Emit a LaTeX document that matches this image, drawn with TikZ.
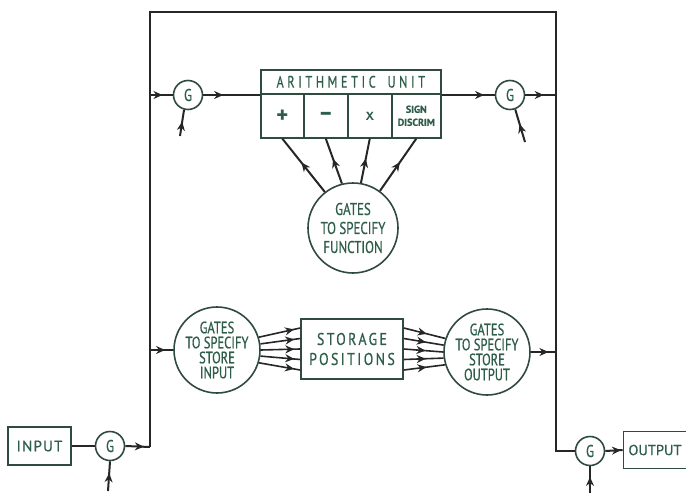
\documentclass[tikz,border=0pt]{standalone}
\usepackage{fontspec}
\setmainfont{PT Sans}[FakeBold=0.6]
\newfontfamily\cond{PT Sans}[FakeStretch=0.76, FakeBold=0.6]
\newfontfamily\condsp{PT Sans}[FakeStretch=0.74, LetterSpace=22, FakeBold=0.6]
\newfontfamily\stsp{PT Sans}[FakeStretch=0.82, LetterSpace=14, FakeBold=0.6]
\newfontfamily\spaced{PT Sans}[LetterSpace=8, FakeBold=0.6]
\usetikzlibrary{arrows.meta,decorations.markings,calc}
\definecolor{ink}{HTML}{262626}
\definecolor{txt}{HTML}{2E5E4A}
\definecolor{edge}{HTML}{2F4A3E}
\tikzset{
  lbl/.style={text=txt, font=\cond\fontsize{17}{19}\selectfont, align=center, inner sep=0pt},
  gate/.style={circle, draw=edge, line width=1.6pt, fill=white, minimum size=29pt, inner sep=0pt, text=txt, font=\cond\fontsize{17}{17}\selectfont},
  bigcirc/.style={circle, draw=edge, line width=1.6pt, fill=white, inner sep=0pt, lbl},
  box/.style={rectangle, draw=edge, line width=1.6pt, fill=white, inner sep=0pt, lbl},
  wire/.style={draw=ink, line width=2pt},
  midarrow/.style={wire, postaction={decorate}, decoration={markings, mark=at position #1 with {\arrow{Stealth[length=9pt,width=8pt]}}}},
}
\begin{document}
\begin{tikzpicture}[x=1pt,y=-1pt]
\useasboundingbox (0,0) rectangle (686,493);
% bus corners
\coordinate (TL) at (150,12);
\coordinate (TR) at (556,12);
\coordinate (LB) at (150,447);
\coordinate (RB) at (556,451);
\coordinate (LA) at (150,95);
\coordinate (RA) at (556,95);
\coordinate (LS) at (150,350);
\coordinate (RS) at (556,352);
% nodes
\node[gate] (gA) at (188,95) {G};
\node[gate] (gB) at (510,95) {G};
\node[box, minimum width=180, minimum height=24, anchor=north west, font=\condsp\fontsize{16.5}{16.5}\selectfont] (au) at (260,69) {ARITHMETIC\ \hspace{5pt}UNIT};
\node[box, minimum width=43, minimum height=44, anchor=north west, font=\fontsize{22}{22}\selectfont] (c1) at (260,93) {\textbf{+}};
\node[box, minimum width=44, minimum height=44, anchor=north west, font=\fontsize{22}{22}\selectfont] (c2) at (303,93) {\textbf{--}};
\node[box, minimum width=44, minimum height=44, anchor=north west, font=\fontsize{16}{16}\selectfont] (c3) at (347,93) {x};
\node[box, minimum width=49, minimum height=44, anchor=north west, font=\bfseries\fontsize{10}{13}\selectfont] (c4) at (391,93) {SIGN\\DISCRIM};
\node[bigcirc, minimum size=90] (fn) at (353,228) {GATES\\TO SPECIFY\\FUNCTION};
\node[bigcirc, minimum size=86, font=\cond\fontsize{16.5}{15}\selectfont] (sin) at (217,350) {GATES\\TO SPECIFY\\STORE\\INPUT};
\node[box, minimum width=102, minimum height=60, font=\stsp\fontsize{17}{20}\selectfont] (st) at (352,349) {STORAGE\\POSITIONS};
\node[bigcirc, minimum size=86, font=\cond\fontsize{16.5}{15}\selectfont] (sout) at (487,352) {GATES\\TO SPECIFY\\STORE\\OUTPUT};
\node[box, minimum width=63, minimum height=38, font=\spaced\fontsize{15}{15}\selectfont] (inb) at (39.5,446) {INPUT};
\node[gate] (gI) at (110,446) {G};
\node[gate] (gO) at (590,451) {G};
\node[box, minimum width=63, minimum height=37, font=\fontsize{14.5}{14.5}\selectfont] (outb) at (655,450) {OUTPUT};
\coordinate (cA) at (180,136);
\coordinate (cB) at (525,142);
\coordinate (cI) at (108,491);
\coordinate (cO) at (590,493);
% bus
\draw[wire, line join=miter] (LB) -- (TL) -- (TR) -- (RB) -- (gO.west);
% top row
\draw[midarrow=0.55] (LA) -- (gA.west);
\draw[midarrow=0.35] (gA.east) -- (au.west |- gA);
\draw[midarrow=0.8] (au.east |- gB) -- (gB.west);
\draw[midarrow=0.6] (gB.east) -- (RA);
\draw[midarrow=0.55] (cA) -- (gA.255);
\draw[midarrow=0.55] (cB) -- (gB.290);
% function gates
\draw[midarrow=0.55] (fn.128) -- (c1.south);
\draw[midarrow=0.55] (fn.104) -- (c2.south);
\draw[midarrow=0.55] (fn.80) -- (c3.south);
\draw[midarrow=0.55] (fn.54) -- (c4.south);
% storage row
\draw[midarrow=0.65] (LS) -- (sin.west);
\foreach \a/\d in {17.6/21, 8.7/10.5, 0/0, -8.7/-10.5, -17.6/-21}{
  \draw[midarrow=0.85, line width=1.6pt] (sin.\a) -- ([yshift=\d pt]st.west);
}
\foreach \a/\d in {162.4/21, 171.3/10.5, 180/0, 188.7/-10.5, 197.6/-21}{
  \draw[midarrow=0.55, line width=1.6pt] ([yshift=\d pt]st.east) -- (sout.\a);
}
\draw[midarrow=0.7] (sout.east) -- (RS);
% input / output
\draw[wire] (inb.east) -- (gI.west);
\draw[midarrow=0.75] (gI.east) -- (LB);
\draw[midarrow=0.6] (cI) -- (gI.south);
\draw[midarrow=0.9] (gO.east) -- (outb.west);
\draw[midarrow=0.6] (cO) -- (gO.south);
\end{tikzpicture}
\end{document}
